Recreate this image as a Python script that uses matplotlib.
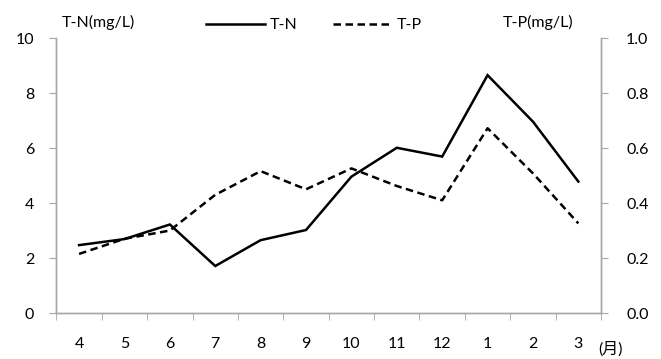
import matplotlib.pyplot as plt
from matplotlib.lines import Line2D

plt.rcParams['font.family'] = ['Lato', 'Noto Sans CJK JP', 'DejaVu Sans']

months = ['4', '5', '6', '7', '8', '9', '10', '11', '12', '1', '2', '3']
tn = [2.47, 2.69, 3.22, 1.71, 2.65, 3.02, 4.96, 6.01, 5.69, 8.65, 6.96, 4.78]
tp = [0.215, 0.27, 0.30, 0.43, 0.516, 0.45, 0.526, 0.462, 0.41, 0.672, 0.508, 0.326]

GRAY = '#a6a6a6'
FS = 11.5

fig = plt.figure(figsize=(6.61, 3.59), dpi=100)
ax = fig.add_axes([0.0853, 0.128, 0.824, 0.766])
ax2 = ax.twinx()

x = list(range(len(months)))
ax.plot(x, tn, color='black', lw=1.8, solid_joinstyle='miter')
ax2.plot(x, tp, color='black', lw=1.8, linestyle=(0, (3, 1.8)))

ax.set_xlim(-0.5, len(months) - 0.5)
ax.set_ylim(0, 10)
ax2.set_ylim(0, 1.0)

ax.set_yticks([0, 2, 4, 6, 8, 10])
ax2.set_yticks([0.0, 0.2, 0.4, 0.6, 0.8, 1.0])
ax2.set_yticklabels([f'{v:.1f}' for v in ax2.get_yticks()])

# category labels centred, tick marks on the category boundaries
ax.set_xticks(x)
ax.set_xticklabels(months)
ax.set_xticks([i - 0.5 for i in range(len(months) + 1)], minor=True)
ax.tick_params(axis='x', which='major', length=0, pad=17, labelsize=FS)
ax.tick_params(axis='x', which='minor', length=5, color=GRAY, direction='out')
ax.tick_params(axis='y', length=5, color=GRAY, direction='out', pad=11, labelsize=FS)
ax2.tick_params(axis='y', length=5, color=GRAY, direction='out', pad=13, labelsize=FS)

for a in (ax, ax2):
    a.spines['top'].set_visible(False)
    for s in ('left', 'right', 'bottom'):
        a.spines[s].set_color(GRAY)
        a.spines[s].set_linewidth(1.0)

fig.text(0.094, 0.937, 'T-N(mg/L)', fontsize=FS, ha='left', va='center')
fig.text(0.868, 0.937, 'T-P(mg/L)', fontsize=FS, ha='right', va='center')
fig.text(0.923, 0.006, '(月)', fontsize=FS, ha='center', va='bottom')

handles = [Line2D([], [], color='black', lw=1.8),
           Line2D([], [], color='black', lw=1.8, linestyle=(0, (3, 1.8)))]
fig.legend(handles, ['T-N', 'T-P'], loc='center', bbox_to_anchor=(0.475, 0.93),
           ncol=2, frameon=False, fontsize=FS, handlelength=3.7,
           handletextpad=0.3, columnspacing=2.2)

fig.savefig('out.png', dpi=100)
